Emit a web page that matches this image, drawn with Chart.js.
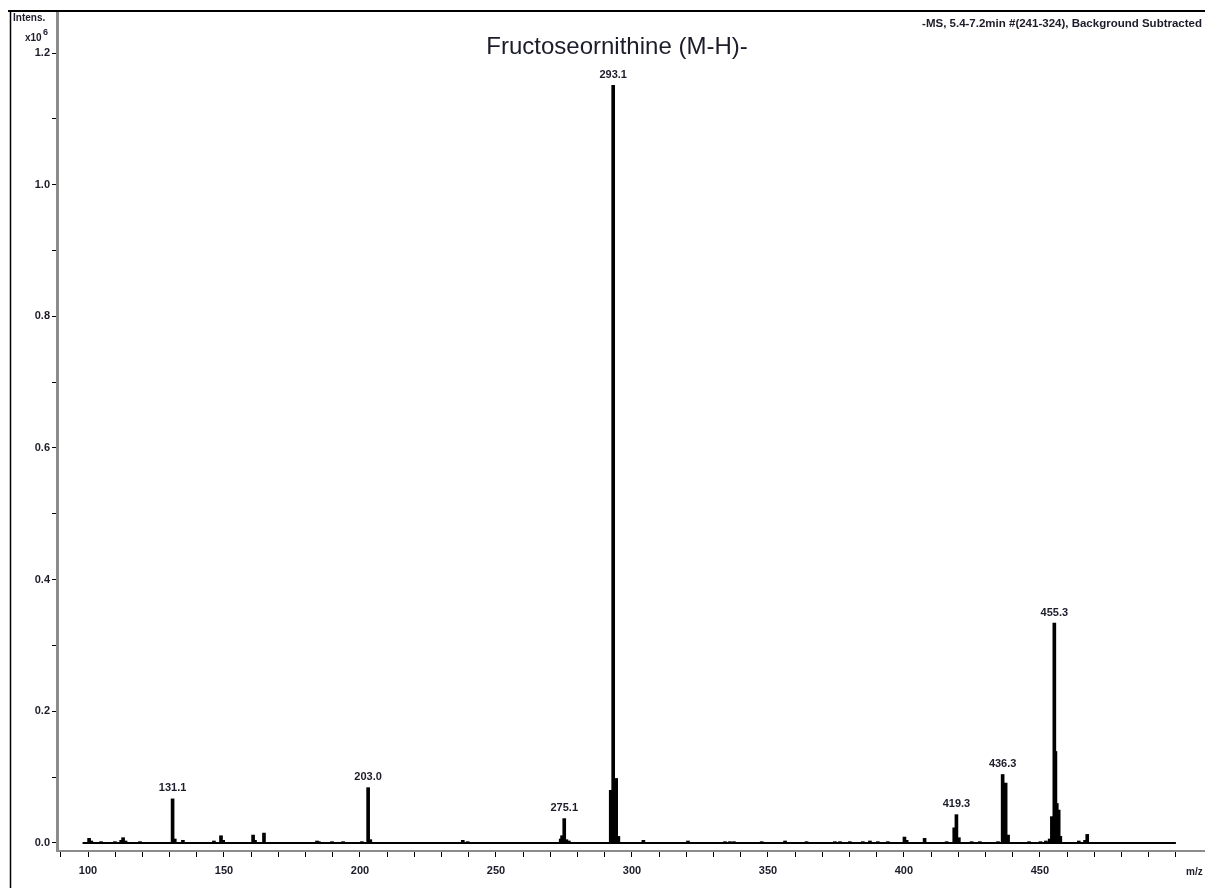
<!DOCTYPE html>
<html>
<head>
<meta charset="utf-8">
<title>Fructoseornithine (M-H)-</title>
<script src="https://cdn.jsdelivr.net/npm/chart.js@4.4.1/dist/chart.umd.min.js"></script>
<style>
  html, body { margin: 0; padding: 0; background: #fff; }
  #wrap { position: relative; width: 1205px; height: 888px; }
</style>
</head>
<body>
<div id="wrap"><canvas id="msChart" width="1205" height="888"></canvas></div>
<script>
// centroid sticks: m/z and intensity (x10^6)
var mzValues = [
    100.4, 101.2, 104.8, 109.9, 112.2, 112.9, 113.8, 119.1,
    131.1, 131.9, 134.9, 146.3, 148.9, 149.7, 160.7, 161.4, 164.7,
    184.2, 184.9, 189.7, 193.8, 200.7, 203.0, 203.8,
    237.8, 239.6, 273.8, 274.3, 275.1, 275.9, 276.8,
    292.2, 293.1, 294.2, 295.0, 304.2, 320.6, 334.2, 336.0, 337.5,
    347.7, 356.3, 364.2, 374.6, 376.5, 380.1, 384.9, 387.5, 390.4, 394.1,
    400.2, 401.0, 407.6, 415.7, 418.5, 419.3, 420.2, 424.9, 427.9, 434.6,
    436.3, 437.4, 438.3, 446.0, 450.2, 452.2, 453.6, 454.4, 455.3, 455.7,
    456.2, 456.9, 457.5, 464.3, 466.6, 467.4
];
var intensValues = [
    0.007, 0.003, 0.002, 0.002, 0.004, 0.008, 0.003, 0.002,
    0.067, 0.006, 0.004, 0.003, 0.011, 0.004, 0.012, 0.004, 0.015,
    0.003, 0.002, 0.002, 0.002, 0.002, 0.084, 0.005,
    0.004, 0.002, 0.006, 0.011, 0.037, 0.005, 0.003,
    0.080, 1.151, 0.098, 0.010, 0.004, 0.003, 0.002, 0.002, 0.002,
    0.002, 0.003, 0.002, 0.002, 0.002, 0.002, 0.002, 0.003, 0.002, 0.002,
    0.009, 0.004, 0.007, 0.002, 0.023, 0.043, 0.008, 0.002, 0.002, 0.002,
    0.104, 0.091, 0.012, 0.002, 0.002, 0.003, 0.006, 0.040, 0.334, 0.139,
    0.060, 0.050, 0.010, 0.003, 0.004, 0.013
];

// peaks annotated with their m/z
var peakLabels = [131.1, 203.0, 275.1, 293.1, 419.3, 436.3, 455.3];

var xTicks = [90, 100, 110, 120, 130, 140, 150, 160, 170, 180, 190, 200, 210, 220, 230, 240,
    250, 260, 270, 280, 290, 300, 310, 320, 330, 340, 350, 360, 370, 380, 390, 400,
    410, 420, 430, 440, 450, 460, 470, 480, 490, 500];
var xLabelled = [100, 150, 200, 250, 300, 350, 400, 450];
var yTicks = [0.0, 0.1, 0.2, 0.3, 0.4, 0.5, 0.6, 0.7, 0.8, 0.9, 1.0, 1.1, 1.2];
var yLabelled = [0.0, 0.2, 0.4, 0.6, 0.8, 1.0, 1.2];

// acquired m/z range (baseline of the spectrum)
var scanRange = [98, 500];

var sticks = mzValues.map(function (mz, i) { return { x: mz, y: intensValues[i] }; });

var textColor = '#1c1c2a';
var sans = '"Liberation Sans", Arial, sans-serif';

var decor = {
    id: 'decor',
    afterDraw: function (chart) {
        var ctx = chart.ctx;
        var xs = chart.scales.x, ys = chart.scales.y;
        ctx.save();

        // page frame
        ctx.strokeStyle = '#000';
        ctx.lineWidth = 2;
        ctx.beginPath(); ctx.moveTo(8, 11); ctx.lineTo(1205, 11); ctx.stroke();
        ctx.lineWidth = 1.5;
        ctx.beginPath(); ctx.moveTo(10.5, 10); ctx.lineTo(10.5, 888); ctx.stroke();

        ctx.fillStyle = textColor;

        // title
        ctx.font = '24px ' + sans;
        ctx.textAlign = 'center';
        ctx.textBaseline = 'middle';
        ctx.fillText('Fructoseornithine (M-H)-', 617, 47);

        // acquisition info
        ctx.font = 'bold 11.5px ' + sans;
        ctx.textAlign = 'right';
        ctx.fillText('-MS, 5.4-7.2min #(241-324), Background Subtracted', 1202, 24);

        // axis titles
        ctx.font = 'bold 10px ' + sans;
        ctx.textAlign = 'left';
        ctx.fillText('Intens.', 13, 18);
        ctx.fillText('x10', 25, 38);
        ctx.font = 'bold 9px ' + sans;
        ctx.fillText('6', 43, 33);
        ctx.font = 'bold 10px ' + sans;
        ctx.fillText('m/z', 1186, 872);

        // peak annotations
        ctx.font = 'bold 11px ' + sans;
        ctx.textAlign = 'center';
        ctx.textBaseline = 'bottom';
        peakLabels.forEach(function (mz) {
            var top = 0;
            mzValues.forEach(function (m, i) {
                if (Math.abs(m - mz) < 0.35 && intensValues[i] > top) top = intensValues[i];
            });
            ctx.fillText(mz.toFixed(1), xs.getPixelForValue(mz), ys.getPixelForValue(top) - 5);
        });
        ctx.restore();
    }
};

var ctx = document.getElementById('msChart').getContext('2d');
var msChart = new Chart(ctx, {
    type: 'bar',
    data: {
        datasets: [{
            type: 'line',
            data: scanRange.map(function (mz) { return { x: mz, y: 0 }; }),
            borderColor: '#000',
            borderWidth: 2,
            pointRadius: 0,
            order: 2
        }, {
            data: sticks,
            backgroundColor: '#000',
            borderWidth: 0,
            barThickness: 3,
            grouped: false,
            order: 1
        }]
    },
    options: {
        responsive: false,
        animation: false,
        layout: { padding: { left: 0, right: 0, top: 12, bottom: 0 } },
        plugins: {
            legend: { display: false },
            tooltip: { enabled: false },
            title: { display: false }
        },
        scales: {
            x: {
                type: 'linear',
                offset: false,
                min: 88.6,
                max: 510.7,
                afterBuildTicks: function (scale) {
                    scale.ticks = xTicks.map(function (v) { return { value: v }; });
                },
                afterFit: function (scale) { scale.height = 37; },
                ticks: {
                    autoSkip: false,
                    maxRotation: 0,
                    padding: 7,
                    color: textColor,
                    font: { family: 'Liberation Sans', size: 11, weight: 'bold' },
                    callback: function (v) { return xLabelled.indexOf(v) >= 0 ? String(v) : ''; }
                },
                grid: { drawOnChartArea: false, drawTicks: true, tickLength: 6, color: '#000', offset: false },
                border: { display: true, color: '#8c8c8c', width: 2 }
            },
            y: {
                type: 'linear',
                min: -0.0122,
                max: 1.2623,
                afterBuildTicks: function (scale) {
                    scale.ticks = yTicks.map(function (v) { return { value: v }; });
                },
                afterFit: function (scale) { scale.width = 57; },
                ticks: {
                    autoSkip: false,
                    padding: 2,
                    color: textColor,
                    font: { family: 'Liberation Sans', size: 11, weight: 'bold' },
                    callback: function (v) {
                        var r = Math.round(v * 10) / 10;
                        return yLabelled.indexOf(r) >= 0 ? r.toFixed(1) : '';
                    }
                },
                grid: { drawOnChartArea: false, drawTicks: true, tickLength: 5, color: '#000' },
                border: { display: true, color: '#8c8c8c', width: 3 }
            }
        }
    },
    plugins: [decor]
});
</script>
</body>
</html>
